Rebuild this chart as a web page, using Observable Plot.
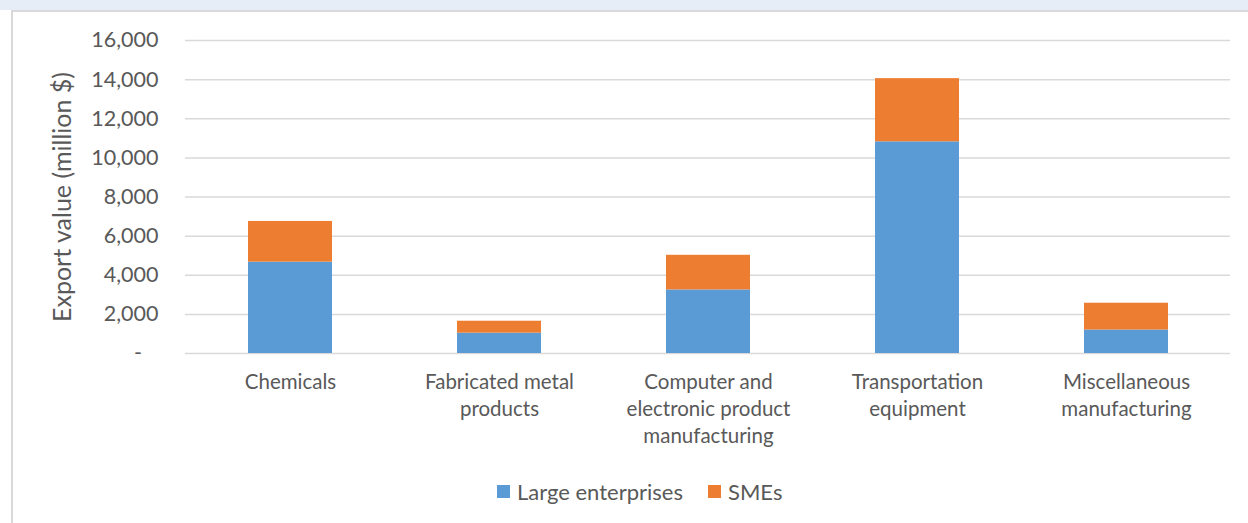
<!DOCTYPE html>
<html><head><meta charset="utf-8">
<script src="https://cdn.jsdelivr.net/npm/d3@7"></script>
<script src="https://cdn.jsdelivr.net/npm/@observablehq/plot@0.6"></script>
<style>
html,body{margin:0;padding:0;width:1248px;height:523px;overflow:hidden;background:#fff;font-family:Lato,"Open Sans",sans-serif;}
#band{position:absolute;left:0;top:0;width:1248px;height:10px;background:#e6edf7;}
#frame{position:absolute;left:11px;top:10px;width:1237px;height:513px;border-top:2px solid #d9d9d9;border-left:2px solid #d9d9d9;box-sizing:border-box;background:#fff;}
#chart{position:absolute;left:0;top:0;}
#legend{position:absolute;left:497px;top:478px;display:flex;align-items:center;font-size:22px;color:#595959;white-space:nowrap;}
#legend .sw{display:inline-block;width:13px;height:13px;margin-right:7px;}
#legend .item{display:flex;align-items:center;margin-right:25px;}
</style></head>
<body>
<div id="band"></div>
<div id="frame"></div>
<div id="chart"></div>
<div id="legend"></div>
<script>
const categories = ["Chemicals","Fabricated metal products","Computer and electronic product manufacturing","Transportation equipment","Miscellaneous manufacturing"];
const tickLabels = ["Chemicals","Fabricated metal\nproducts","Computer and\nelectronic product\nmanufacturing","Transportation\nequipment","Miscellaneous\nmanufacturing"];
const series = ["Large enterprises","SMEs"];
const largeValues = [4670, 1040, 3250, 10820, 1200];
const smeValues = [2080, 610, 1770, 3230, 1370];
const yTicks = [0,2000,4000,6000,8000,10000,12000,14000,16000];
const colors = ["#5b9bd5","#ed7d31"];

const data = [];
categories.forEach((c,i)=>{
  data.push({category:c, series:series[0], value:largeValues[i]});
  data.push({category:c, series:series[1], value:smeValues[i]});
});
const labelOf = new Map(categories.map((c,i)=>[c,tickLabels[i]]));

const chart = Plot.plot({
  width:1248, height:460,
  marginLeft:185, marginRight:18, marginTop:40, marginBottom:107,
  style:{fontFamily:"Lato, 'Open Sans', sans-serif", color:"#595959", background:"transparent"},
  x:{domain:categories, paddingInner:0.6, paddingOuter:0.3, label:null},
  y:{domain:[0,16000], label:null},
  color:{domain:series, range:colors},
  marks:[
    Plot.ruleY(yTicks, {stroke:"#d9d9d9", strokeWidth:1.5}),
    Plot.barY(data, Plot.stackY({x:"category", y:"value", fill:"series", order:series})),
    Plot.axisY({ticks:yTicks, tickSize:0, tickPadding:27, fontSize:21.5, fill:"#595959",
      tickFormat:d=> d===0 ? "-\u00a0\u00a0\u00a0" : d3.format(",")(d), label:null}),
    Plot.axisX({tickSize:0, tickPadding:17, fontSize:20.5, lineHeight:1.3, fill:"#595959",
      tickFormat:d=>labelOf.get(d), label:null, textAnchor:"middle"}),
    Plot.text(["Export value (million $)"], {frameAnchor:"left", textAnchor:"middle", rotate:-90, dx:-123, fontSize:25, fill:"#595959"})
  ]
});
document.getElementById("chart").appendChild(chart);

const lg = document.getElementById("legend");
series.forEach((s,i)=>{
  const it = document.createElement("div"); it.className="item";
  it.innerHTML = `<span class="sw" style="background:${colors[i]}"></span><span>${s}</span>`;
  lg.appendChild(it);
});
</script>
</body></html>
